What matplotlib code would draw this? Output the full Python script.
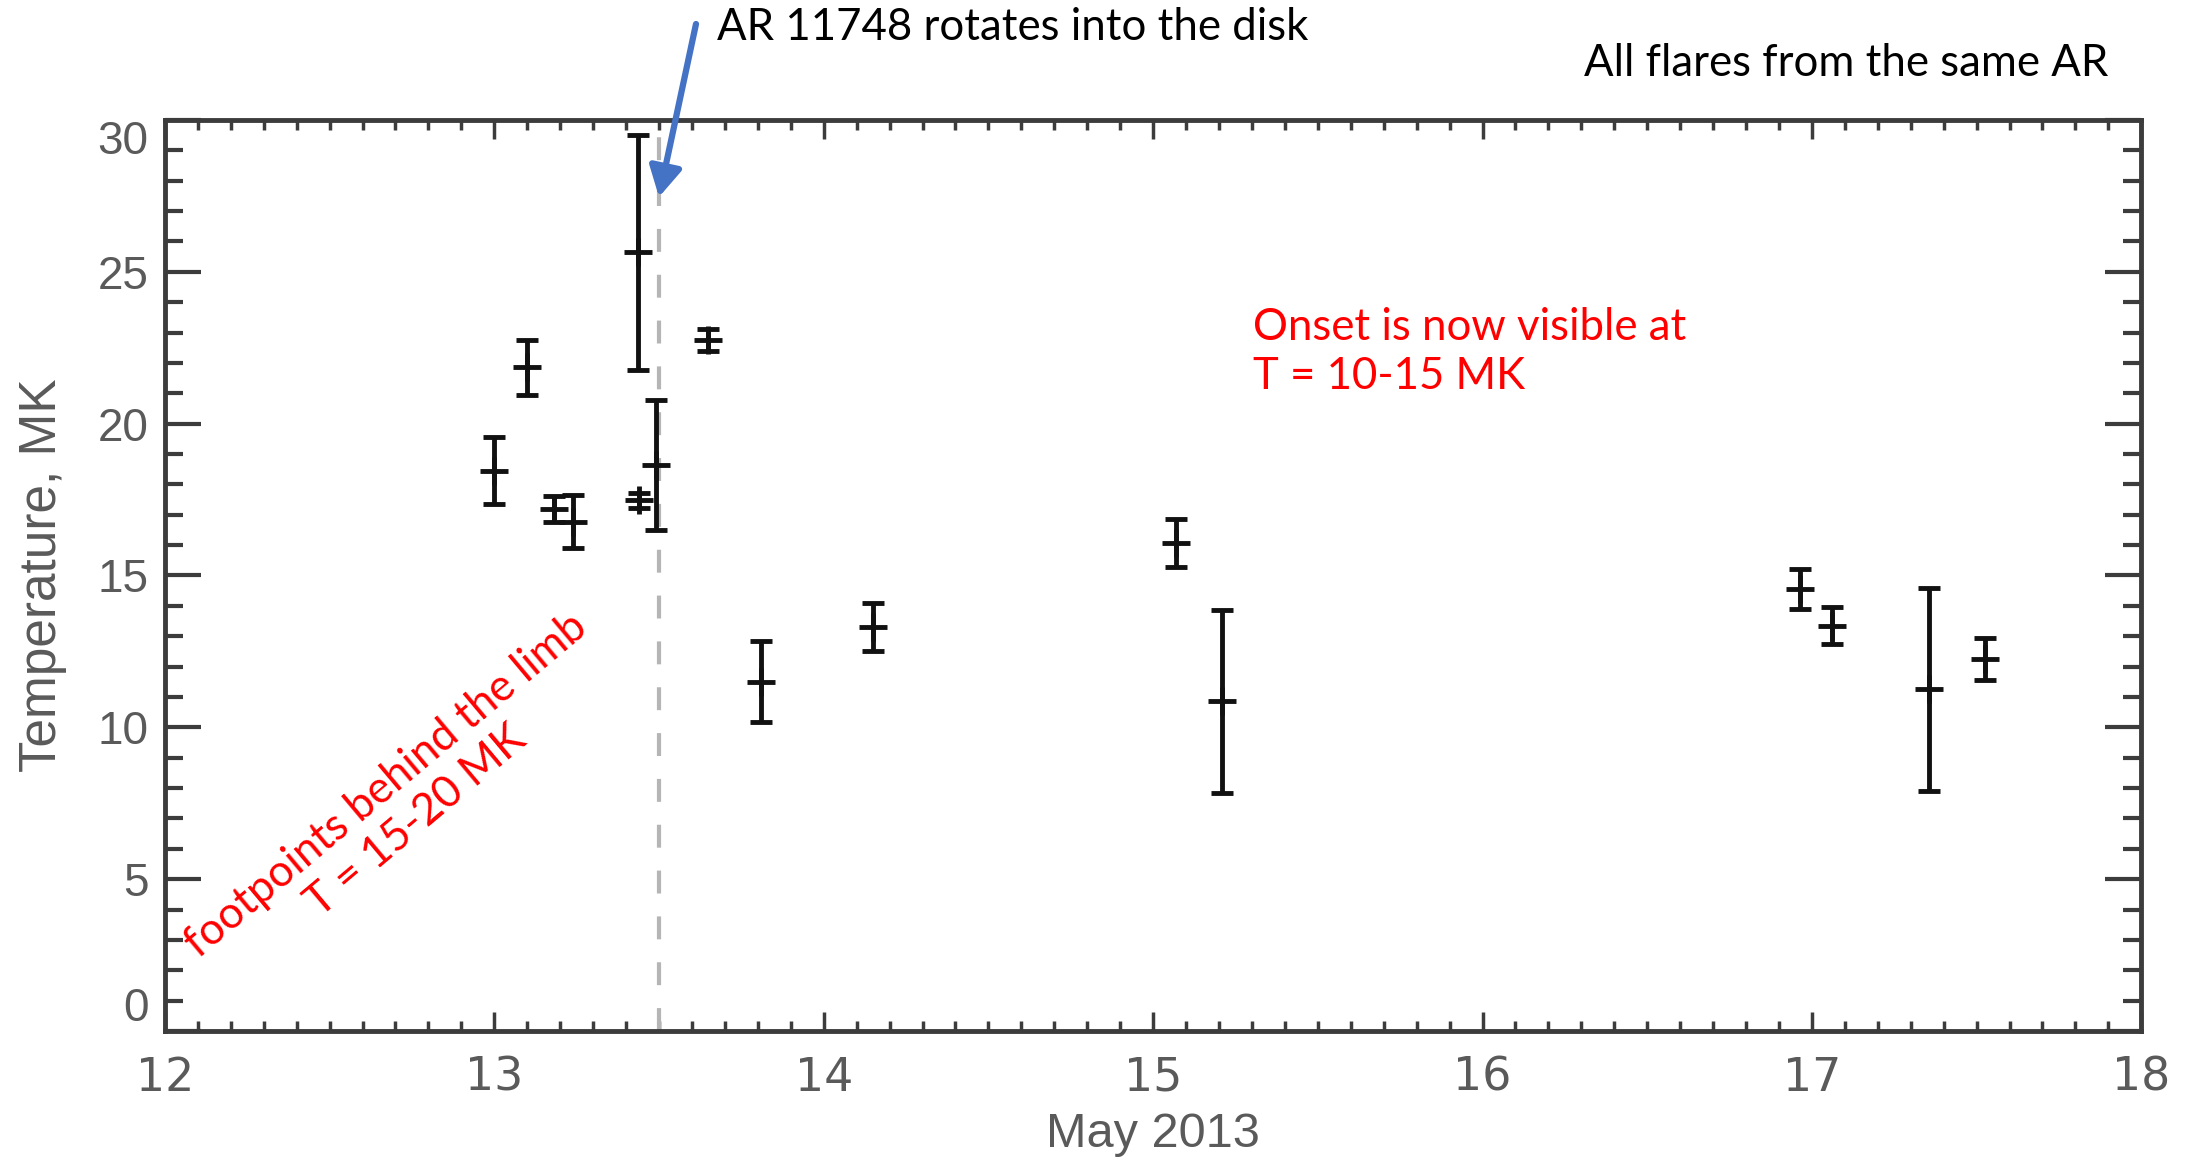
"""Flare temperatures vs time for AR 11748, May 2013."""
import matplotlib

matplotlib.use("Agg")
import matplotlib.pyplot as plt
from matplotlib.ticker import MultipleLocator

# day of May 2013, peak temperature (MK) and its 1-sigma error
dates = [13.00, 13.10, 13.18, 13.24, 13.435, 13.44, 13.49, 13.65,
         13.81, 14.15, 15.07, 15.21, 16.965, 17.06, 17.355, 17.525]
temps = [18.45, 21.85, 17.20, 16.77, 25.65, 17.48, 18.65, 22.75,
         11.50, 13.30, 16.07, 10.85, 14.55, 13.35, 11.25, 12.25]
errors = [1.10, 0.90, 0.43, 0.87, 3.87, 0.25, 2.14, 0.35,
          1.33, 0.80, 0.80, 3.00, 0.66, 0.60, 3.35, 0.70]

limb_day = 13.5
x_ticks = [12, 13, 14, 15, 16, 17, 18]
y_ticks = [0, 5, 10, 15, 20, 25, 30]

AXIS_GRAY = "#3c3c3c"
LABEL_GRAY = "#5a5a5a"
RED = "#ff0000"
BLUE = "#4472C4"

fig = plt.figure(figsize=(21.96, 11.58), dpi=100)
ax = fig.add_axes([0.0751, 0.1097, 0.9000, 0.7867])

ax.errorbar(dates, temps, yerr=errors, fmt="+", color="#111111",
            markersize=20, markeredgewidth=3.5, elinewidth=3.5,
            capsize=8, capthick=4, zorder=3)

ax.axvline(limb_day, color="#b5b5b5", lw=3, dashes=(5.5, 5.5), zorder=2)

ax.set_xlim(12, 18)
ax.set_ylim(0, 30)
ax.set_xticks(x_ticks)
ax.set_yticks(y_ticks)
ax.xaxis.set_minor_locator(MultipleLocator(0.1))
ax.yaxis.set_minor_locator(MultipleLocator(1))

for spine in ax.spines.values():
    spine.set_color(AXIS_GRAY)
    spine.set_linewidth(3.5)

ax.tick_params(axis="both", which="both", direction="in", top=True,
               right=True, color=AXIS_GRAY, labelcolor=LABEL_GRAY)
ax.tick_params(axis="x", which="major", length=14, width=2.5, pad=18)
ax.tick_params(axis="x", which="minor", length=7, width=2.5)
ax.tick_params(axis="y", which="major", length=26, width=3, pad=12)
ax.tick_params(axis="y", which="minor", length=13, width=3)

for lab in ax.get_xticklabels():
    lab.set_fontfamily(["Liberation Sans Narrow", "DejaVu Sans"])
    lab.set_fontsize(33)
for lab in ax.get_yticklabels():
    lab.set_fontfamily(["Liberation Sans", "DejaVu Sans"])
    lab.set_fontsize(33)

# end labels sit inside the axis range, as in the original IDL plot
ylabels = ax.get_yticklabels()
ylabels[0].set_verticalalignment("bottom")
ylabels[-1].set_verticalalignment("top")

ax.set_xlabel("May 2013", fontsize=35, color=LABEL_GRAY,
              family=["Liberation Sans", "DejaVu Sans"], labelpad=8)
ax.set_ylabel("Temperature, MK", fontsize=37, color=LABEL_GRAY,
              family=["Liberation Sans", "DejaVu Sans"], labelpad=22)

# annotations
text_font = ["Lato", "DejaVu Sans"]
fig.text(717 / 2196, 1 - 28 / 1158, "AR 11748 rotates into the disk",
         fontsize=31.5, family=text_font, ha="left", va="center")
fig.text(2108 / 2196, 1 - 63 / 1158, "All flares from the same AR",
         fontsize=31.5, family=text_font, ha="right", va="center")
fig.text(1253 / 2196, 1 - 352 / 1158, "Onset is now visible at\nT = 10-15 MK",
         fontsize=31.5, family=text_font, color=RED, ha="left", va="center",
         linespacing=1.25)
fig.text(401 / 2196, 1 - 803 / 1158, "footpoints behind the limb\nT = 15-20 MK",
         fontsize=31.5, family=text_font, color=RED, ha="center", va="center",
         multialignment="center", rotation=40, rotation_mode="anchor",
         linespacing=1.15)

ax.annotate("", xy=(659 / 2196, 1 - 197 / 1158), xycoords="figure fraction",
            xytext=(696 / 2196, 1 - 24 / 1158), textcoords="figure fraction",
            arrowprops=dict(arrowstyle="-|>,head_length=0.4,head_width=0.22",
                            color=BLUE, lw=4.5, mutation_scale=45,
                            shrinkA=0, shrinkB=0),
            annotation_clip=False)

fig.savefig("out.png", dpi=100)
plt.close(fig)
